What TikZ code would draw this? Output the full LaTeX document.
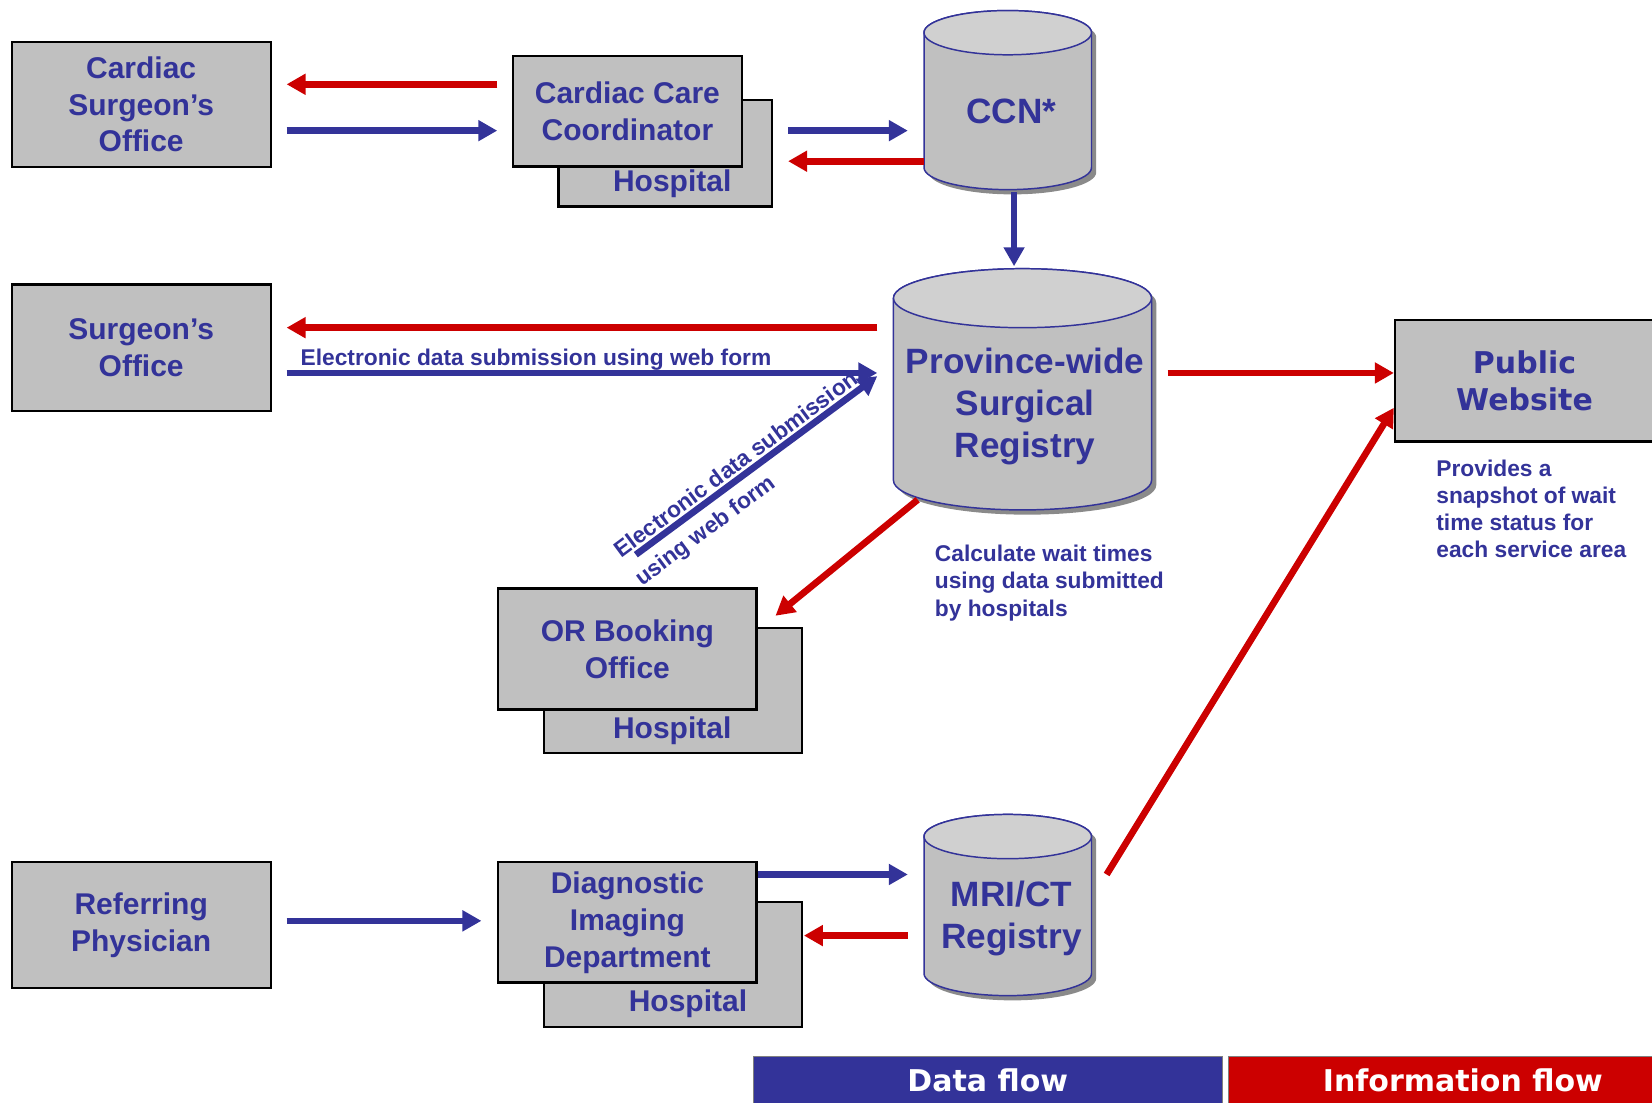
\documentclass[tikz,border=0pt]{standalone}
\usepackage{fontspec}
\setmainfont{Liberation Sans}
\newfontfamily\verdana{DejaVu Sans}
\usetikzlibrary{arrows.meta}
\usetikzlibrary{calc}

\definecolor{flowblue}{HTML}{333399}
\definecolor{flowred}{HTML}{CC0000}
\definecolor{boxgray}{HTML}{C0C0C0}
\definecolor{capgray}{HTML}{D0D0D0}
\definecolor{shadegray}{HTML}{8A8A8A}

\newcommand\boxfont{\fontsize{16.2}{19.9}\selectfont\bfseries}
\newcommand\dbfont{\fontsize{19}{22.8}\selectfont\bfseries}
\newcommand\notefont{\fontsize{12.3}{14.7}\selectfont\bfseries}
\newcommand\vfont{\verdana\fontsize{16.2}{19.9}\selectfont\bfseries}

% database drum behind node #1: x radius #2, half body #3, y radius #4 (cm)
\newcommand\dbdraw[4]{%
  \begin{scope}[shift={(#1.center)}, x=1cm, y=1cm]
    \fill[shadegray] ({-#2+0.09},{#3-0.09}) -- ({-#2+0.09},{-#3-0.09}) arc[start angle=180, end angle=360, x radius=#2, y radius=#4]
      -- ({#2+0.09},{#3-0.09}) arc[start angle=0, end angle=180, x radius=#2, y radius=#4] -- cycle;
    \filldraw[fill=boxgray, draw=flowblue, line width=0.8pt] (-#2,#3) -- (-#2,-#3) arc[start angle=180, end angle=360, x radius=#2, y radius=#4]
      -- (#2,#3) arc[start angle=0, end angle=180, x radius=#2, y radius=#4] -- cycle;
    \filldraw[fill=capgray, draw=flowblue, line width=0.8pt] (0,#3) ellipse[x radius=#2, y radius=#4];
  \end{scope}}

\tikzset{
  office/.style={draw=black, line width=1.2pt, fill=boxgray, text=flowblue, font=\boxfont, align=center, inner sep=0pt},
  hosptext/.style={text=flowblue, font=\boxfont, inner sep=0pt},
  dbase/.style={draw=none, inner sep=0pt},
  dbtext/.style={text=flowblue, font=\dbfont, align=center, inner sep=0pt},
  note/.style={text=flowblue, font=\notefont, align=left, inner sep=0pt},
  dataflow/.style={draw=flowblue, line width=3.6pt, -{Triangle[length=0.36cm,width=0.38cm]}},
  infoflow/.style={draw=flowred, line width=3.6pt, -{Triangle[length=0.36cm,width=0.38cm]}},
  legend/.style={draw=gray, line width=0.6pt, text=white, font=\vfont, minimum width=8.9cm, minimum height=0.88cm, inner sep=0pt}
}

\begin{document}
\begin{tikzpicture}[x=0.02cm,y=-0.02cm]
\useasboundingbox (0,0) rectangle (1568,1046);

\node[office, minimum width=4.92cm, minimum height=2.38cm] (cso) at (134,99) {Cardiac\\Surgeon’s\\Office};
\node[office, minimum width=4.06cm, minimum height=2.02cm] (hospA) at (631.5,145.5) {};
\node[office, minimum width=4.34cm, minimum height=2.10cm] (ccc) at (595.5,105.5) {Cardiac Care\\Coordinator};
\node[hosptext] (hospAtxt) at (638,174) {Hospital};

\node[office, minimum width=4.92cm, minimum height=2.40cm] (so) at (134,330) {Surgeon’s\\Office};

\node[office, minimum width=4.90cm, minimum height=2.38cm] (hospB) at (638.5,655.5) {};
\node[office, minimum width=4.90cm, minimum height=2.30cm] (orb) at (595.5,616) {OR Booking\\Office};
\node[hosptext] (hospBtxt) at (638,694) {Hospital};

\node[office, minimum width=4.92cm, minimum height=2.30cm, font=\vfont] (pw) at (1447,361.5) {Public\\Website};

\node[office, minimum width=4.92cm, minimum height=2.38cm] (rp) at (134,878) {Referring\\Physician};
\node[office, minimum width=4.90cm, minimum height=2.38cm] (hospC) at (638.5,915.5) {};
\node[office, minimum width=4.90cm, minimum height=2.28cm] (did) at (595.5,875.5) {Diagnostic\\Imaging\\Department};
\node[hosptext] (hospCtxt) at (653,953) {Hospital};

\node[dbase, minimum width=3.18cm, minimum height=3.40cm] (ccn) at (956.5,95) {};
\dbdraw{ccn}{1.59}{1.28}{0.42}
\node[dbtext] (ccntxt) at (960,106) {CCN*};
\node[dbase, minimum width=4.90cm, minimum height=4.58cm] (reg) at (970.5,369.5) {};
\dbdraw{reg}{2.45}{1.73}{0.56}
\node[dbtext] (regtxt) at (973,386) {Province-wide\\Surgical\\Registry};
\node[dbase, minimum width=3.18cm, minimum height=3.44cm] (mri) at (956.5,859) {};
\dbdraw{mri}{1.59}{1.30}{0.42}
\node[dbtext] (mritxt) at (960,872) {MRI/CT\\Registry};

\draw[infoflow] ($(ccc.west |- 0,80)+(-14,0)$) -- ($(cso.east |- 0,80)+(14,0)$);
\draw[dataflow] ($(cso.east |- 0,124)+(14,0)$) -- ($(ccc.west |- 0,124)+(-14,0)$);
\draw[dataflow] ($(hospA.east |- 0,124)+(14,0)$) -- ($(ccn.west |- 0,124)+(-15,0)$);
\draw[infoflow] (ccn.west |- 0,153) -- ($(hospA.east |- 0,153)+(14,0)$);
\draw[dataflow] ($(ccn.south)+(6,2)$) -- ($(ccn.south |- reg.north)+(6,-2)$);

\draw[infoflow] ($(reg.west |- 0,311)+(-15,0)$) -- ($(so.east |- 0,311)+(14,0)$);
\draw[dataflow] ($(so.east |- 0,354)+(14,0)$) -- ($(reg.west |- 0,354)+(-15,0)$);
\node[note, anchor=base west] (lblweb) at (285,347) {Electronic data submission using web form};
\draw[dataflow] ($(orb.north)+(8,-31)$) -- ($(reg.west |- 0,357)+(-15,0)$);
\node[note, rotate=36.5, anchor=west] (lbldiag) at (596,539) {Electronic data submission\\[4pt]using web form};

\draw[infoflow] ($(reg.south)+(-99.5,-10)$) -- ($(orb.north east)+(17,27)$);
\node[note, anchor=north west] (lblcalc) at (887,517) {Calculate wait times\\using data submitted\\by hospitals};

\draw[infoflow] ($(reg.east |- 0,354)+(15,0)$) -- (pw.west |- 0,354);
\node[note, anchor=north west] (lblpw) at (1363,436) {Provides a\\snapshot of wait\\time status for\\each service area};
\draw[infoflow] ($(mri.east |- 0,830)+(14,0)$) -- (pw.west |- 0,387);

\draw[dataflow] ($(rp.east |- 0,874)+(14,0)$) -- ($(did.west |- 0,874)+(-15,0)$);
\draw[dataflow] (did.east |- 0,830) -- ($(mri.west |- 0,830)+(-15,0)$);
\draw[infoflow] ($(mri.west |- 0,888)+(-15,0)$) -- ($(hospC.east |- 0,888)+(1,0)$);

\node[legend, fill=flowblue] (lgdata) at (937.5,1025) {Data flow};
\node[legend, fill=flowred] (lginfo) at (1388.5,1025) {Information flow};

\end{tikzpicture}
\end{document}
